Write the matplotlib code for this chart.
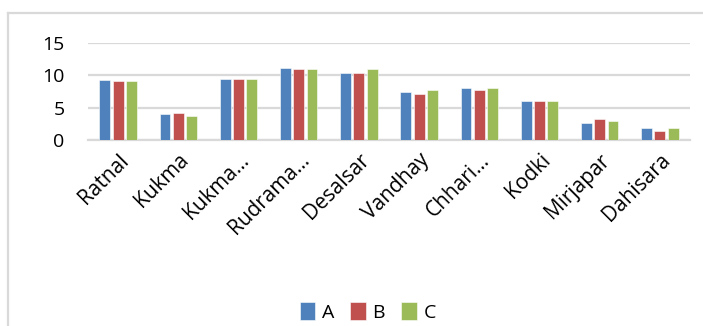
import numpy as np
import matplotlib.pyplot as plt
from matplotlib.lines import Line2D

plt.rcParams['font.family'] = ['Open Sans', 'DejaVu Sans']

villages = ['Ratnal', 'Kukma', 'Kukma…', 'Rudrama…', 'Desalsar',
            'Vandhay', 'Chhari…', 'Kodki', 'Mirjapar', 'Dahisara']
series_a = [9.35, 4.0, 9.45, 11.1, 10.3, 7.35, 8.0, 6.1, 2.6, 1.85]
series_b = [9.2, 4.25, 9.45, 11.05, 10.3, 7.05, 7.8, 6.1, 3.25, 1.4]
series_c = [9.05, 3.7, 9.45, 10.95, 11.05, 7.7, 8.0, 6.1, 2.9, 1.85]
names = ['A', 'B', 'C']
colors = ['#4F81BD', '#C0504D', '#9BBB59']

fig = plt.figure(figsize=(7.03, 3.26), dpi=100)
ax = fig.add_axes([0.1252, 0.5706, 0.8563, 0.2974])

x = np.arange(len(villages))
step = 0.22
for i, (vals, col) in enumerate(zip([series_a, series_b, series_c], colors)):
    ax.bar(x + (i - 1) * step, vals, width=0.18, color=col,
           edgecolor='white', linewidth=0.4, zorder=3, label=names[i])

ax.set_xlim(-0.5, len(villages) - 0.5)
ax.set_ylim(0, 15)
ax.set_yticks([0, 5, 10, 15])
ax.yaxis.grid(True, color='#d9d9d9', linewidth=1.6, zorder=0)
ax.set_axisbelow(True)
for s in ['top', 'right', 'left']:
    ax.spines[s].set_visible(False)
ax.spines['bottom'].set_color('#d9d9d9')
ax.spines['bottom'].set_linewidth(1.6)
ax.tick_params(axis='y', length=0, pad=17, labelsize=14, labelcolor='black')
ax.tick_params(axis='x', length=0, pad=7, labelsize=15, labelcolor='black')
ax.set_xticks(x)
ax.set_xticklabels(villages, rotation=45, ha='right', rotation_mode='anchor')

# chart frame edges (top and left)
fig.add_artist(Line2D([0.0114, 0.0114], [0, 0.960], color='#d9d9d9', linewidth=1.6))
fig.add_artist(Line2D([0.0114, 1.0], [0.960, 0.960], color='#d9d9d9', linewidth=1.6))

fig.legend(loc='center', bbox_to_anchor=(0.523, 0.043), ncol=3, frameon=False,
           fontsize=14, handlelength=0.78, handleheight=1.0,
           handletextpad=0.35, columnspacing=0.85)

fig.savefig('out.png', dpi=100)
